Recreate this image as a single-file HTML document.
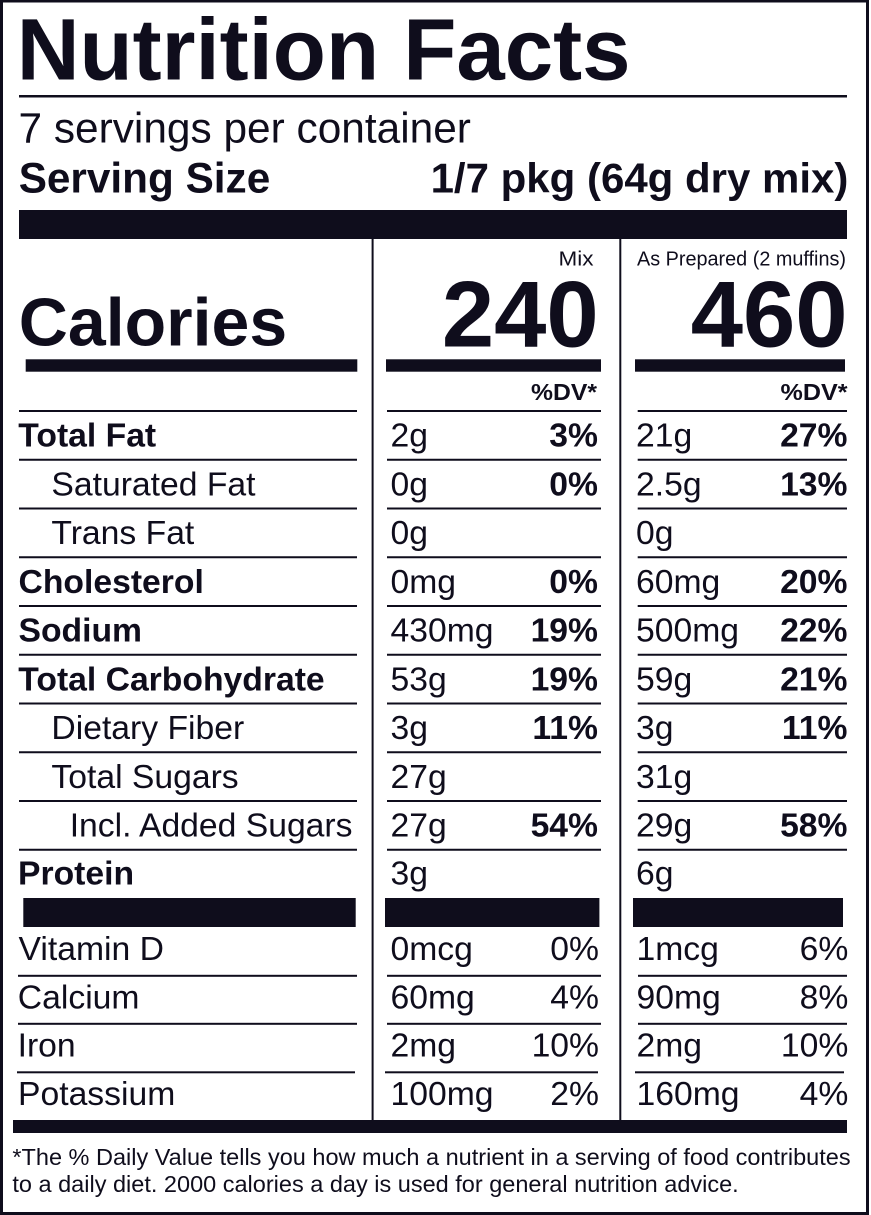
<!DOCTYPE html>
<html><head><meta charset="utf-8">
<style>
html,body{margin:0;padding:0;background:#fff;}
svg{display:block;}
text{font-family:"Liberation Sans",Arial,Helvetica,sans-serif;fill:#0f0d1c;}
.b{font-weight:bold;}
</style></head>
<body>
<svg width="871" height="1215" viewBox="0 0 871 1215" xmlns="http://www.w3.org/2000/svg">
<rect x="0" y="0" width="871" height="1215" fill="#fff"/>
<g fill="#0f0d1c">
<rect x="0" y="0" width="3" height="1215"/>
<rect x="0" y="0" width="869" height="2.5"/>
<rect x="866" y="0" width="3" height="1215"/>
<rect x="0" y="1212" width="869" height="3"/>
<rect x="19" y="95" width="828" height="2.5"/>
<rect x="19" y="210" width="828" height="29"/>
<rect x="371.6" y="239" width="2" height="881"/>
<rect x="619.3" y="239" width="2" height="881"/>
<rect x="25.7" y="359.3" width="331.6" height="12.4"/>
<rect x="386" y="359.3" width="215" height="12.4"/>
<rect x="635" y="359.3" width="210" height="12.4"/>
<rect x="19" y="410" width="338" height="2"/><rect x="387" y="410" width="214" height="2"/><rect x="637.7" y="410" width="209.3" height="2"/>
<rect x="19" y="458.75" width="338" height="2"/><rect x="387" y="458.75" width="214" height="2"/><rect x="637.7" y="458.75" width="209.3" height="2"/>
<rect x="19" y="507.5" width="338" height="2"/><rect x="387" y="507.5" width="214" height="2"/><rect x="637.7" y="507.5" width="209.3" height="2"/>
<rect x="19" y="556.25" width="338" height="2"/><rect x="387" y="556.25" width="214" height="2"/><rect x="637.7" y="556.25" width="209.3" height="2"/>
<rect x="19" y="605" width="338" height="2"/><rect x="387" y="605" width="214" height="2"/><rect x="637.7" y="605" width="209.3" height="2"/>
<rect x="19" y="653.75" width="338" height="2"/><rect x="387" y="653.75" width="214" height="2"/><rect x="637.7" y="653.75" width="209.3" height="2"/>
<rect x="19" y="702.5" width="338" height="2"/><rect x="387" y="702.5" width="214" height="2"/><rect x="637.7" y="702.5" width="209.3" height="2"/>
<rect x="19" y="751.25" width="338" height="2"/><rect x="387" y="751.25" width="214" height="2"/><rect x="637.7" y="751.25" width="209.3" height="2"/>
<rect x="19" y="800" width="338" height="2"/><rect x="387" y="800" width="214" height="2"/><rect x="637.7" y="800" width="209.3" height="2"/>
<rect x="19" y="848.75" width="338" height="2"/><rect x="387" y="848.75" width="214" height="2"/><rect x="637.7" y="848.75" width="209.3" height="2"/>
<rect x="23.3" y="898" width="332.4" height="29"/>
<rect x="385" y="898" width="214.4" height="29"/>
<rect x="633" y="898" width="210" height="29"/>
<rect x="18" y="974.8" width="339" height="2"/><rect x="387" y="974.8" width="214" height="2"/><rect x="638" y="974.8" width="209" height="2"/>
<rect x="18" y="1022.8" width="339" height="2"/><rect x="387" y="1022.8" width="214" height="2"/><rect x="638" y="1022.8" width="209" height="2"/>
<rect x="17" y="1071.3" width="338" height="2"/><rect x="385" y="1071.3" width="213" height="2"/><rect x="635" y="1071.3" width="209" height="2"/>
<rect x="13" y="1120" width="834" height="13"/>
</g>

<text class="b" x="16.7" y="79.3" font-size="87">Nutrition Facts</text>
<text x="18.5" y="142.7" font-size="42.4">7 servings per container</text>
<text class="b" x="18.7" y="192.5" font-size="42.3">Serving Size</text>
<text class="b" x="848.4" y="192.5" font-size="42" text-anchor="end">1/7 pkg (64g dry mix)</text>

<text x="593.5" y="265.3" font-size="20.5" text-anchor="end" textLength="35" lengthAdjust="spacingAndGlyphs">Mix</text>
<text x="846" y="265.3" font-size="20.5" text-anchor="end" textLength="209" lengthAdjust="spacingAndGlyphs">As Prepared (2 muffins)</text>
<text class="b" x="18.8" y="345.5" font-size="68">Calories</text>
<text class="b" x="598.7" y="346.7" font-size="94" text-anchor="end">240</text>
<text class="b" x="847.6" y="346.7" font-size="94" text-anchor="end">460</text>
<text class="b" x="597" y="400" font-size="23" text-anchor="end" textLength="66" lengthAdjust="spacingAndGlyphs">%DV*</text>
<text class="b" x="847.5" y="400" font-size="23" text-anchor="end" textLength="67" lengthAdjust="spacingAndGlyphs">%DV*</text>

<g font-size="33.7">
<text class="b" x="18.3" y="446.5">Total Fat</text>
<text x="390.5" y="446.5">2g</text><text class="b" x="598" y="446.5" text-anchor="end">3%</text>
<text x="636" y="446.5">21g</text><text class="b" x="847.5" y="446.5" text-anchor="end">27%</text>

<text x="51.4" y="495.25">Saturated Fat</text>
<text x="390.5" y="495.25">0g</text><text class="b" x="598" y="495.25" text-anchor="end">0%</text>
<text x="636" y="495.25">2.5g</text><text class="b" x="847.5" y="495.25" text-anchor="end">13%</text>

<text x="51.4" y="544">Trans Fat</text>
<text x="390.5" y="544">0g</text>
<text x="636" y="544">0g</text>

<text class="b" x="18.5" y="592.75">Cholesterol</text>
<text x="390.5" y="592.75">0mg</text><text class="b" x="598" y="592.75" text-anchor="end">0%</text>
<text x="636" y="592.75">60mg</text><text class="b" x="847.5" y="592.75" text-anchor="end">20%</text>

<text class="b" x="18.5" y="641.5">Sodium</text>
<text x="390.5" y="641.5">430mg</text><text class="b" x="598" y="641.5" text-anchor="end">19%</text>
<text x="636" y="641.5">500mg</text><text class="b" x="847.5" y="641.5" text-anchor="end">22%</text>

<text class="b" x="18.3" y="690.25">Total Carbohydrate</text>
<text x="390.5" y="690.25">53g</text><text class="b" x="598" y="690.25" text-anchor="end">19%</text>
<text x="636" y="690.25">59g</text><text class="b" x="847.5" y="690.25" text-anchor="end">21%</text>

<text x="51.4" y="739">Dietary Fiber</text>
<text x="390.5" y="739">3g</text><text class="b" x="598" y="739" text-anchor="end">11%</text>
<text x="636" y="739">3g</text><text class="b" x="847.5" y="739" text-anchor="end">11%</text>

<text x="51.4" y="787.75">Total Sugars</text>
<text x="390.5" y="787.75">27g</text>
<text x="636" y="787.75">31g</text>

<text x="69.7" y="836.5">Incl. Added Sugars</text>
<text x="390.5" y="836.5">27g</text><text class="b" x="598" y="836.5" text-anchor="end">54%</text>
<text x="636" y="836.5">29g</text><text class="b" x="847.5" y="836.5" text-anchor="end">58%</text>

<text class="b" x="18" y="884.5">Protein</text>
<text x="390.5" y="884.5">3g</text>
<text x="636" y="884.5">6g</text>

<text x="18.5" y="960">Vitamin D</text>
<text x="390.5" y="960">0mcg</text><text x="599" y="960" text-anchor="end">0%</text>
<text x="636.5" y="960">1mcg</text><text x="848.3" y="960" text-anchor="end">6%</text>

<text x="17.8" y="1008.3">Calcium</text>
<text x="390.5" y="1008.3">60mg</text><text x="599" y="1008.3" text-anchor="end">4%</text>
<text x="636.5" y="1008.3">90mg</text><text x="848.3" y="1008.3" text-anchor="end">8%</text>

<text x="17.6" y="1056.7">Iron</text>
<text x="390.5" y="1056.7">2mg</text><text x="599" y="1056.7" text-anchor="end">10%</text>
<text x="636.5" y="1056.7">2mg</text><text x="848.3" y="1056.7" text-anchor="end">10%</text>

<text x="18" y="1105">Potassium</text>
<text x="390.5" y="1105">100mg</text><text x="599" y="1105" text-anchor="end">2%</text>
<text x="636.5" y="1105">160mg</text><text x="848.3" y="1105" text-anchor="end">4%</text>
</g>

<text x="12.4" y="1165" font-size="23.5">*The % Daily Value tells you how much a nutrient in a serving of food contributes</text>
<text x="12.4" y="1192" font-size="23.5">to a daily diet. 2000 calories a day is used for general nutrition advice.</text>
</svg>
</body></html>
